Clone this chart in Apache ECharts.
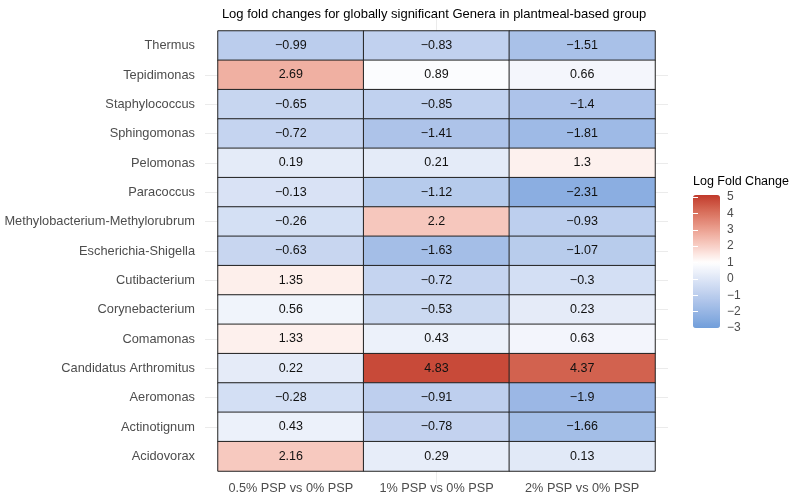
<!DOCTYPE html>
<html><head><meta charset="utf-8">
<script src="https://cdn.jsdelivr.net/npm/echarts@6/dist/echarts.min.js"></script>
<style>html,body{margin:0;padding:0;background:#fff}#c{width:797px;height:497px}</style>
</head><body><div id="c"></div>
<script>
const genera = ["Thermus","Tepidimonas","Staphylococcus","Sphingomonas","Pelomonas","Paracoccus","Methylobacterium-Methylorubrum","Escherichia-Shigella","Cutibacterium","Corynebacterium","Comamonas","Candidatus Arthromitus","Aeromonas","Actinotignum","Acidovorax"];
const comparisons = ["0.5% PSP vs 0% PSP","1% PSP vs 0% PSP","2% PSP vs 0% PSP"];
const lfc05 = [-0.99, 2.69, -0.65, -0.72, 0.19, -0.13, -0.26, -0.63, 1.35, 0.56, 1.33, 0.22, -0.28, 0.43, 2.16];
const lfc1  = [-0.83, 0.89, -0.85, -1.41, 0.21, -1.12, 2.2, -1.63, -0.72, -0.53, 0.43, 4.83, -0.91, -0.78, 0.29];
const lfc2  = [-1.51, 0.66, -1.4, -1.81, 1.3, -2.31, -0.93, -1.07, -0.3, 0.23, 0.63, 4.37, -1.9, -1.66, 0.13];
const legendTicks = [-3,-2,-1,0,1,2,3,4,5];
const scaleMin = -3, scaleMax = 5.14, scaleMid = 1;
const lowColor = '#6a9bd9', midColor = '#ffffff', highColor = '#c0392b';

const FONT = "Liberation Sans, Arial, sans-serif";

// --- Lab interpolation (like ggplot2 gradient2) ---
function hex2rgb(h){h=h.replace('#','');return [0,2,4].map(i=>parseInt(h.substr(i,2),16)/255);}
function lin(c){return c<=0.04045?c/12.92:Math.pow((c+0.055)/1.055,2.4);}
function delin(c){return c<=0.0031308?12.92*c:1.055*Math.pow(c,1/2.4)-0.055;}
const WP=[0.95047,1,1.08883];
function rgb2lab(rgb){const [r,g,b]=rgb.map(lin);
  const X=(0.4124*r+0.3576*g+0.1805*b)/WP[0],Y=(0.2126*r+0.7152*g+0.0722*b)/WP[1],Z=(0.0193*r+0.1192*g+0.9505*b)/WP[2];
  const f=t=>t>0.008856?Math.cbrt(t):(7.787*t+16/116);
  const fx=f(X),fy=f(Y),fz=f(Z);return [116*fy-16,500*(fx-fy),200*(fy-fz)];}
function lab2hex(lab){const fy=(lab[0]+16)/116,fx=fy+lab[1]/500,fz=fy-lab[2]/200;
  const fi=t=>t*t*t>0.008856?t*t*t:(t-16/116)/7.787;
  const X=fi(fx)*WP[0],Y=fi(fy)*WP[1],Z=fi(fz)*WP[2];
  let r=3.2406*X-1.5372*Y-0.4986*Z,g=-0.9689*X+1.8758*Y+0.0415*Z,b=0.0557*X-0.2040*Y+1.0570*Z;
  return '#'+[r,g,b].map(c=>{let v=Math.round(Math.min(1,Math.max(0,delin(c)))*255);return v.toString(16).padStart(2,'0');}).join('');}
const LL=rgb2lab(hex2rgb(lowColor)),LM=rgb2lab(hex2rgb(midColor)),LH=rgb2lab(hex2rgb(highColor));
function colorAt(v){const md=Math.max(Math.abs(scaleMin-scaleMid),Math.abs(scaleMax-scaleMid));
  const t=0.5+(v-scaleMid)/(2*md);
  let a,b,f; if(t<0.5){a=LL;b=LM;f=t/0.5;}else{a=LM;b=LH;f=(t-0.5)/0.5;}
  return lab2hex([0,1,2].map(i=>a[i]+(b[i]-a[i])*f));}
const NSTOP=61, stops=[];
for(let i=0;i<NSTOP;i++){stops.push(colorAt(scaleMin+(scaleMax-scaleMin)*i/(NSTOP-1)));}

const cols = [lfc05, lfc1, lfc2];
const yCats = genera.slice().reverse();
const n = genera.length;
const data = [];
cols.forEach((arr, ci) => arr.forEach((v, ri) => data.push([ci, n - 1 - ri, v])));
const fmt = v => String(v).replace('-', '\u2212');
const xCenters = comparisons.map((c,i)=>i), yCenters = genera.map((g,i)=>i);

const chart = echarts.init(document.getElementById('c'), null, {renderer: 'canvas'});
chart.setOption({
  animation: false,
  textStyle: {fontFamily: FONT},
  title: [
    {text: "Log fold changes for globally significant Genera in plantmeal-based group", left: 429, top: 3, textAlign: 'center',
     textStyle: {fontSize: 13, fontWeight: 'normal', color: '#000', fontFamily: FONT}},
    {text: "Log Fold Change", left: 693, top: 175, padding: 0,
     textStyle: {fontSize: 12.5, fontWeight: 'normal', color: '#000', fontFamily: FONT}}
  ],
  grid: [
    {left: 218, right: 142, top: 31, bottom: 26},
    {left: 205, right: 129, top: 18, bottom: 13},
    {left: 693, right: 77, top: 197, bottom: 169}
  ],
  xAxis: [
    {type: 'category', gridIndex: 0, data: comparisons, position: 'bottom',
     axisLine: {show: false}, axisTick: {show: false}, splitLine: {show: false},
     axisLabel: {color: '#4d4d4d', fontSize: 12.7, margin: 11, interval: 0, fontFamily: FONT}},
    {type: 'value', gridIndex: 1, min: -0.589, max: 2.589,
     axisLine: {show: false}, axisTick: {show: false, customValues: xCenters}, axisLabel: {show: false, customValues: xCenters},
     splitLine: {show: true, showMinLine: false, showMaxLine: false, lineStyle: {color: '#ebebeb', width: 1}}},
    {type: 'value', gridIndex: 2, show: false}
  ],
  yAxis: [
    {type: 'category', gridIndex: 0, data: yCats,
     axisLine: {show: false}, axisTick: {show: false}, splitLine: {show: false},
     axisLabel: {color: '#4d4d4d', fontSize: 12.8, margin: 23, interval: 0, fontFamily: FONT}},
    {type: 'value', gridIndex: 1, min: -0.943, max: 14.943,
     axisLine: {show: false}, axisTick: {show: false, customValues: yCenters}, axisLabel: {show: false, customValues: yCenters},
     splitLine: {show: true, showMinLine: false, showMaxLine: false, lineStyle: {color: '#ebebeb', width: 1}}},
    {type: 'value', gridIndex: 2, position: 'right', min: legendTicks[0], max: legendTicks[legendTicks.length-1], interval: 1, z: 10,
     axisLine: {show: false}, splitLine: {show: false},
     axisTick: {show: true, inside: true, length: 5, lineStyle: {color: '#fff', width: 1}},
     axisLabel: {color: '#4d4d4d', fontSize: 12, margin: 7, fontFamily: FONT, formatter: v => fmt(v)}},
    {type: 'value', gridIndex: 2, position: 'left', min: legendTicks[0], max: legendTicks[legendTicks.length-1], interval: 1, z: 10,
     axisLine: {show: false}, splitLine: {show: false}, axisLabel: {show: false},
     axisTick: {show: true, inside: true, length: 5, lineStyle: {color: '#fff', width: 1}}}
  ],
  visualMap: {
    type: 'continuous', min: scaleMin, max: scaleMax, calculable: false, seriesIndex: 0,
    left: 693, top: 195, itemWidth: 27, itemHeight: 133, padding: 0, text: null, showLabel: false,
    inRange: {color: stops}
  },
  series: [{
    type: 'heatmap', xAxisIndex: 0, yAxisIndex: 0, data: data,
    itemStyle: {borderColor: '#222', borderWidth: 1},
    label: {show: true, color: '#111', fontSize: 12.5, fontFamily: FONT, formatter: p => fmt(p.value[2])},
    emphasis: {disabled: true}
  }]
});
</script></body></html>
